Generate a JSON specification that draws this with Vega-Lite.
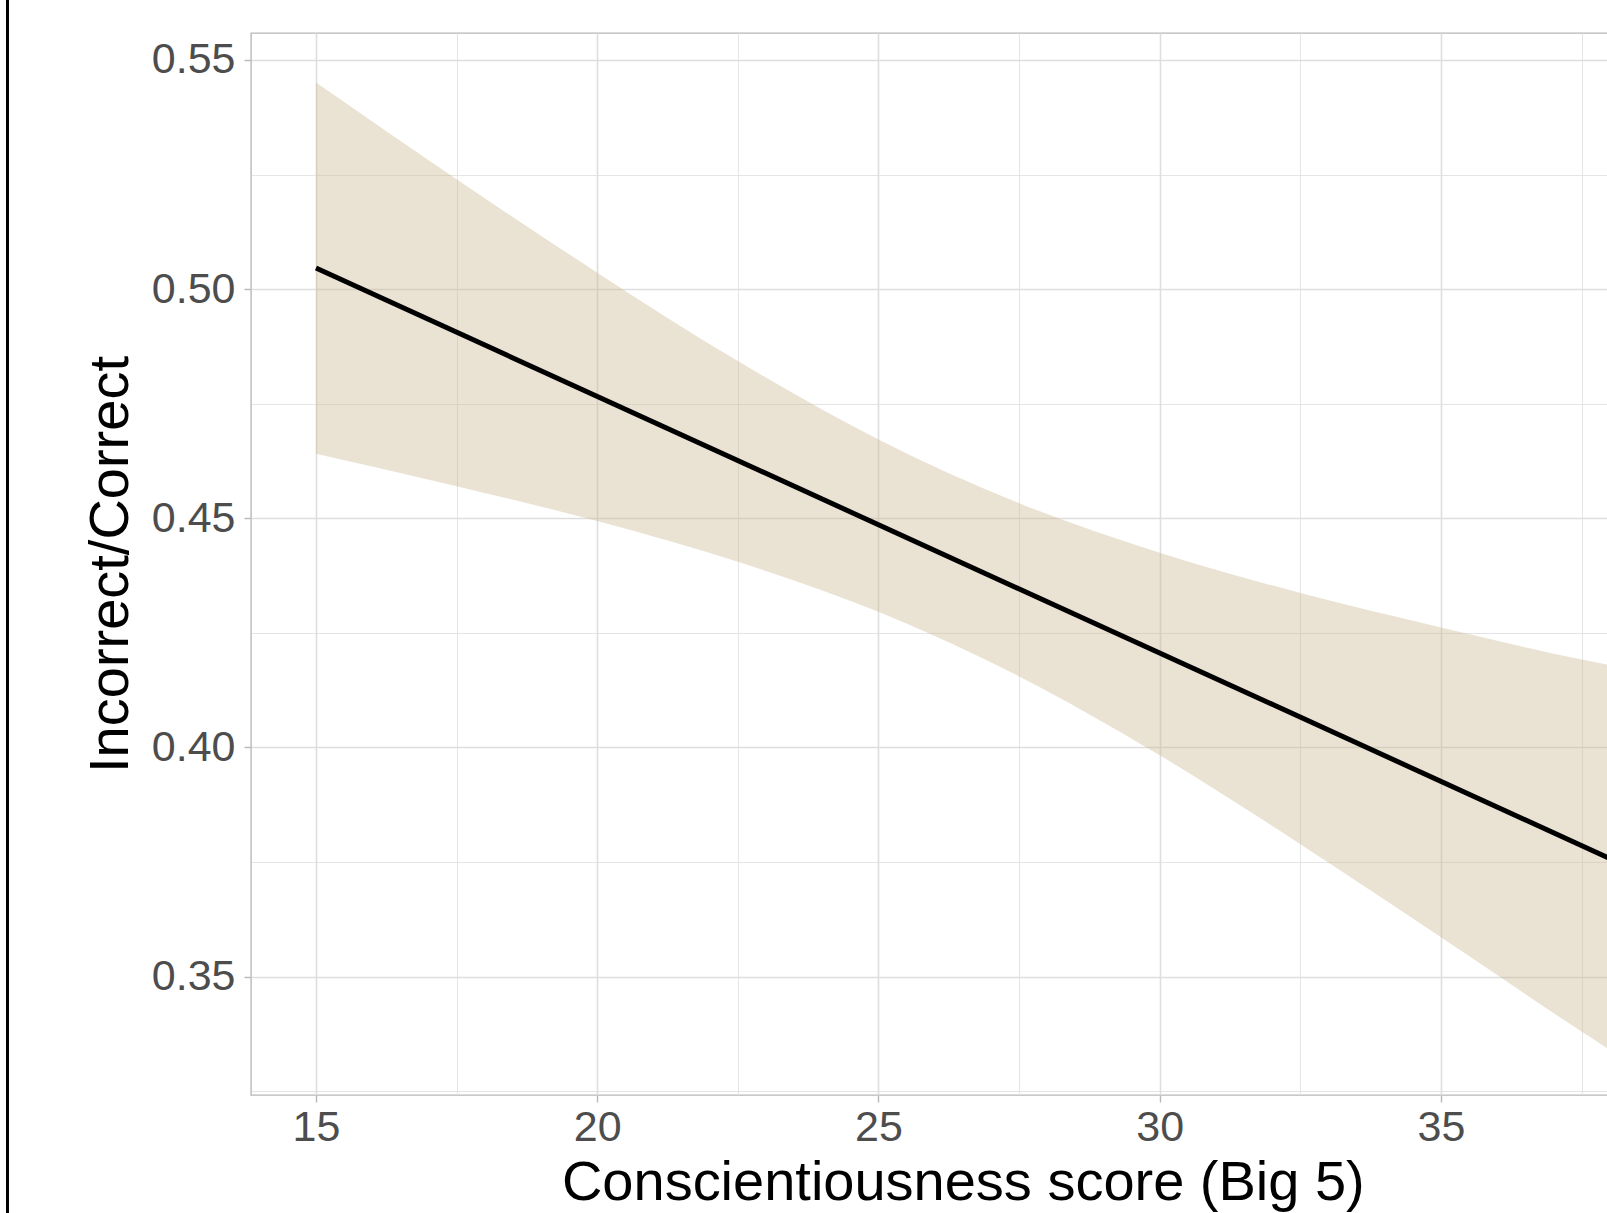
{
  "$schema": "https://vega.github.io/schema/vega-lite/v6.json",
  "autosize": {"type": "none"},
  "width": 1423.7,
  "height": 1062,
  "padding": {"left": 251, "top": 33, "right": -67, "bottom": 118},
  "background": "white",
  "config": {
    "view": {"stroke": "#b8b8b8", "strokeWidth": 1.4},
    "axis": {
      "labelFont": "Liberation Sans",
      "titleFont": "Liberation Sans",
      "labelFontSize": 43,
      "titleFontSize": 56,
      "labelColor": "#4d4d4d",
      "titleColor": "#000000",
      "titleFontWeight": "normal",
      "domain": false,
      "tickColor": "#b8b8b8",
      "tickWidth": 1.4,
      "tickSize": 7,
      "gridColor": "#dedede"
    }
  },
  "datasets": {
    "band": [
      {"x": 15, "lo": 0.4641, "hi": 0.5451},
      {"x": 17.5, "lo": 0.4570, "hi": 0.5240},
      {"x": 20, "lo": 0.4494, "hi": 0.5036},
      {"x": 22.5, "lo": 0.4405, "hi": 0.4843},
      {"x": 25, "lo": 0.4296, "hi": 0.4672},
      {"x": 27.5, "lo": 0.4155, "hi": 0.4533},
      {"x": 30, "lo": 0.3983, "hi": 0.4425},
      {"x": 32.5, "lo": 0.3789, "hi": 0.4337},
      {"x": 35, "lo": 0.3586, "hi": 0.4262},
      {"x": 37.5, "lo": 0.3380, "hi": 0.4192},
      {"x": 38, "lo": 0.3340, "hi": 0.4180}
    ],
    "fit": [
      {"x": 15, "fit": 0.5046},
      {"x": 38, "fit": 0.3758}
    ],
    "frame": [
      {"side": "left"}
    ]
  },
  "layer": [
    {
      "data": {"name": "band"},
      "mark": {"type": "area", "color": "#cab994", "opacity": 0.4, "interpolate": "monotone"},
      "encoding": {
        "x": {
          "field": "x", "type": "quantitative",
          "scale": {"domain": [13.845, 39.155], "nice": false, "zero": false},
          "axis": {
            "title": "Conscientiousness score (Big 5)",
            "values": [15, 17.5, 20, 22.5, 25, 27.5, 30, 32.5, 35, 37.5],
            "labelExpr": "datum.value % 5 === 0 ? format(datum.value, 'd') : ''",
            "labelPadding": 5,
            "titlePadding": 6,
            "gridWidth": {"condition": {"test": "datum.value % 5 === 0", "value": 1.6}, "value": 0.8},
            "tickOpacity": {"condition": {"test": "datum.value % 5 === 0", "value": 1}, "value": 0}
          }
        },
        "y": {
          "field": "lo", "type": "quantitative",
          "scale": {"domain": [0.32417, 0.55589], "nice": false, "zero": false},
          "axis": {
            "title": "Incorrect/Correct",
            "values": [0.325, 0.35, 0.375, 0.4, 0.425, 0.45, 0.475, 0.5, 0.525, 0.55],
            "labelExpr": "abs(datum.value * 20 - round(datum.value * 20)) < 0.01 ? format(datum.value, '.2f') : ''",
            "labelPadding": 9,
            "titlePadding": 12,
            "gridWidth": {"condition": {"test": "abs(datum.value * 20 - round(datum.value * 20)) < 0.01", "value": 1.6}, "value": 0.8},
            "tickOpacity": {"condition": {"test": "abs(datum.value * 20 - round(datum.value * 20)) < 0.01", "value": 1}, "value": 0}
          }
        },
        "y2": {"field": "hi"}
      }
    },
    {
      "data": {"name": "fit"},
      "mark": {"type": "line", "stroke": "#000000", "strokeWidth": 5},
      "encoding": {
        "x": {"field": "x", "type": "quantitative", "title": "Conscientiousness score (Big 5)"},
        "y": {"field": "fit", "type": "quantitative", "title": "Incorrect/Correct"}
      }
    },
    {
      "data": {"name": "frame"},
      "mark": {"type": "rule", "color": "#000000", "strokeWidth": 3},
      "encoding": {
        "x": {"datum": 9.516, "type": "quantitative", "title": "Conscientiousness score (Big 5)"},
        "y": {"datum": 0.62, "type": "quantitative", "title": "Incorrect/Correct"},
        "y2": {"datum": 0.26}
      }
    }
  ]
}
